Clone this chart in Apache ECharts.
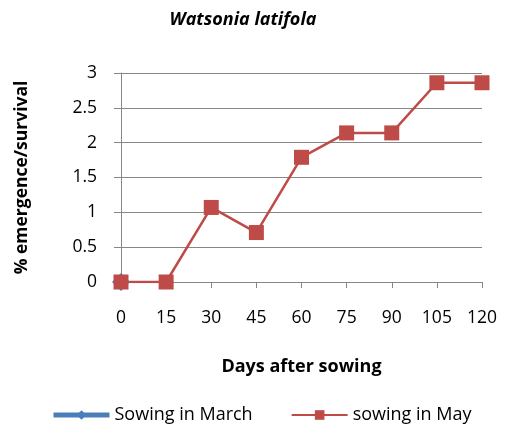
<!DOCTYPE html>
<html>
<head>
<meta charset="utf-8">
<script src="https://cdn.jsdelivr.net/npm/echarts@6/dist/echarts.min.js"></script>
<style>
  html, body { margin: 0; padding: 0; background: #fff; }
  #chart { width: 505px; height: 430px; }
</style>
</head>
<body>
<div id="chart"></div>
<script>
const days = ["0", "15", "30", "45", "60", "75", "90", "105", "120"];
const sowingMarch = [0, null, null, null, null, null, null, null, null];
const sowingMay = [0, 0, 1.07, 0.71, 1.79, 2.14, 2.14, 2.86, 2.86];

const chart = echarts.init(document.getElementById("chart"));
const font = "Open Sans";

chart.setOption({
  animation: false,
  title: {
    text: "Watsonia latifola",
    left: 238,
    top: 6,
    textAlign: "center",
    textStyle: { fontFamily: font, fontStyle: "italic", fontWeight: "bold", fontSize: 18, color: "#000" },
  },
  grid: { left: 121, right: 23, top: 73, bottom: 148 },
  legend: {
    top: 401,
    left: 46,
    itemGap: 38,
    itemWidth: 56,
    itemHeight: 12,
    textStyle: { fontFamily: font, fontSize: 18, color: "#000" },
    data: [
      { name: "Sowing in March", lineStyle: { width: 5 } },
      { name: "sowing in May", lineStyle: { width: 2 } },
    ],
  },
  xAxis: {
    type: "category",
    boundaryGap: false,
    data: days,
    name: "Days after sowing",
    nameLocation: "middle",
    nameGap: 76,
    nameTextStyle: { fontFamily: font, fontWeight: "bold", fontSize: 18, color: "#000" },
    axisLine: { lineStyle: { color: "#868686", width: 1 } },
    axisTick: { show: true, length: 6, lineStyle: { color: "#868686" } },
    axisLabel: { fontFamily: font, fontSize: 17.5, color: "#000", margin: 27 },
  },
  yAxis: {
    type: "value",
    min: 0,
    max: 3,
    interval: 0.5,
    name: "% emergence/survival",
    nameLocation: "middle",
    nameGap: 90,
    nameTextStyle: { fontFamily: font, fontWeight: "bold", fontSize: 17.5, color: "#000" },
    axisLine: { show: true, lineStyle: { color: "#868686", width: 1 } },
    axisTick: { show: true, length: 7, lineStyle: { color: "#868686" } },
    axisLabel: { fontFamily: font, fontSize: 17.5, color: "#000", margin: 24 },
    splitLine: { lineStyle: { color: "#868686", width: 1 } },
  },
  series: [
    {
      name: "Sowing in March",
      type: "line",
      data: sowingMarch,
      symbol: "diamond",
      symbolSize: 18,
      color: "#4a7ebb",
      lineStyle: { width: 5, color: "#4a7ebb" },
      itemStyle: { color: "#4a7ebb" },
    },
    {
      name: "sowing in May",
      type: "line",
      data: sowingMay,
      symbol: "rect",
      symbolSize: 15,
      color: "#be4b48",
      lineStyle: { width: 2.5, color: "#be4b48" },
      itemStyle: { color: "#be4b48" },
      z: 3,
    },
  ],
});
</script>
</body>
</html>
